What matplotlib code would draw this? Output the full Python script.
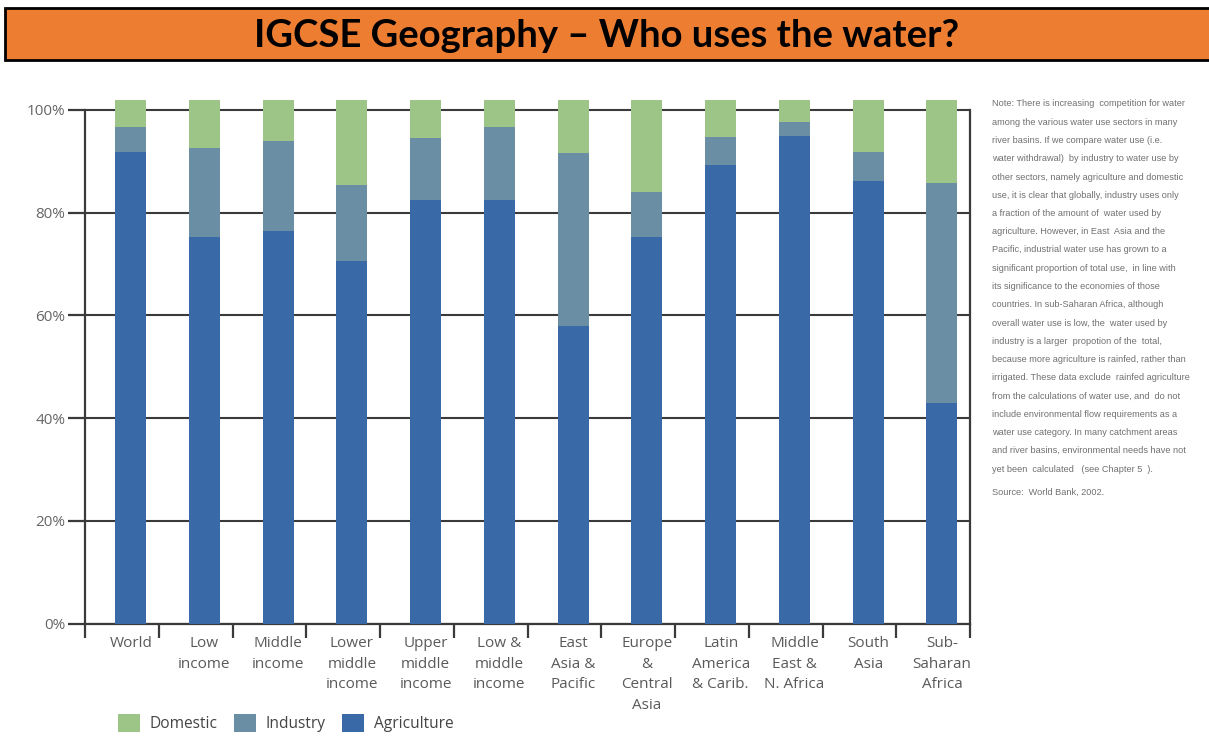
import matplotlib.pyplot as plt
from matplotlib.patches import Rectangle, Patch
from matplotlib.ticker import FixedLocator

# Data (% of water withdrawal)
regions = ['World', 'Low\nincome', 'Middle\nincome', 'Lower\nmiddle\nincome',
           'Upper\nmiddle\nincome', 'Low &\nmiddle\nincome', 'East\nAsia &\nPacific',
           'Europe\n&\nCentral\nAsia', 'Latin\nAmerica\n& Carib.', 'Middle\nEast &\nN. Africa',
           'South\nAsia', 'Sub-\nSaharan\nAfrica']
agriculture = [91.9, 75.2, 76.5, 70.5, 82.5, 82.5, 57.9, 75.2, 89.3, 95.0, 86.2, 42.9]
industry = [4.8, 17.3, 17.5, 14.8, 12.0, 14.1, 33.7, 8.9, 5.4, 2.7, 5.7, 42.9]
domestic = [5.2, 9.4, 7.9, 16.6, 7.4, 5.3, 10.3, 17.8, 7.2, 4.2, 10.0, 16.1]
y_ticks = [0, 20, 40, 60, 80, 100]
y_labels = ['0%', '20%', '40%', '60%', '80%', '100%']

note_lines = [
    "Note: There is increasing  competition for water",
    "among the various water use sectors in many",
    "river basins. If we compare water use (i.e.",
    "water withdrawal)  by industry to water use by",
    "other sectors, namely agriculture and domestic",
    "use, it is clear that globally, industry uses only",
    "a fraction of the amount of  water used by",
    "agriculture. However, in East  Asia and the",
    "Pacific, industrial water use has grown to a",
    "significant proportion of total use,  in line with",
    "its significance to the economies of those",
    "countries. In sub-Saharan Africa, although",
    "overall water use is low, the  water used by",
    "industry is a larger  propotion of the  total,",
    "because more agriculture is rainfed, rather than",
    "irrigated. These data exclude  rainfed agriculture",
    "from the calculations of water use, and  do not",
    "include environmental flow requirements as a",
    "water use category. In many catchment areas",
    "and river basins, environmental needs have not",
    "yet been  calculated   (see Chapter 5  ).",
]
source = 'Source:  World Bank, 2002.'

c_dom = '#9cc587'
c_ind = '#6a8ea3'
c_agr = '#3a69a8'
dark = '#3a3a3a'

fig = plt.figure(figsize=(12.09, 7.47), dpi=100)

# title banner
fig.patches.append(Rectangle((5 / 1209, 1 - 60 / 747), 1.01, 52 / 747,
                             transform=fig.transFigure, facecolor='#ed7d31',
                             edgecolor='black', linewidth=2))
fig.text(607 / 1209, 1 - 36 / 747, 'IGCSE Geography \u2013 Who uses the water?',
         ha='center', va='center', fontsize=27.5, fontweight='bold', family='Lato')

ax = fig.add_axes([85 / 1209, 0.1653, (970 - 85) / 1209, 0.7081])
x = list(range(len(regions)))
w = 0.42
bottom2 = [a + b for a, b in zip(agriculture, industry)]
ax.bar(x, agriculture, w, color=c_agr, zorder=3)
ax.bar(x, industry, w, bottom=agriculture, color=c_ind, zorder=3)
ax.bar(x, domestic, w, bottom=bottom2, color=c_dom, zorder=3)

ax.set_xlim(-0.62, 11.38)
ax.set_ylim(0, 103)
ax.spines['top'].set_visible(False)
for s in ['left', 'right', 'bottom']:
    ax.spines[s].set_color(dark)
    ax.spines[s].set_linewidth(1.6)
ax.spines['left'].set_bounds(0, 100)
ax.spines['right'].set_bounds(0, 100)

ax.set_yticks(y_ticks)
ax.set_yticklabels(y_labels, family='Open Sans', fontsize=11, color='#666666')
ax.tick_params(axis='y', length=12, width=1.6, color=dark, pad=2)
ax.yaxis.grid(True, color=dark, linewidth=1.5, zorder=1)
ax.set_axisbelow(True)

ax.set_xticks(x)
ax.set_xticklabels(regions, family='Open Sans', fontsize=11, color='#5a5a5a',
                   linespacing=1.52)
ax.tick_params(axis='x', which='major', length=0, pad=9)
ax.xaxis.set_minor_locator(FixedLocator([-0.62 + k for k in range(13)]))
ax.tick_params(axis='x', which='minor', length=10, width=1.6, color=dark)

# side note, one line at a time
for i, line in enumerate(note_lines):
    fig.text(992 / 1209, 1 - (104 + i * 18.25) / 747, line, ha='left', va='center',
             fontsize=6.6, color='#707070', family='Liberation Sans')
fig.text(992 / 1209, 1 - 492 / 747, source, ha='left', va='center',
         fontsize=6.6, color='#707070', family='Liberation Sans')

handles = [Patch(facecolor=c_dom, label='Domestic'),
           Patch(facecolor=c_ind, label='Industry'),
           Patch(facecolor=c_agr, label='Agriculture')]
fig.legend(handles=handles, loc='center left', bbox_to_anchor=(104 / 1209, 1 - 723 / 747),
           ncol=3, frameon=False, prop={'family': 'Open Sans', 'size': 11.2},
           handlelength=1.4, handleheight=1.4, handletextpad=0.6, columnspacing=1.1,
           labelcolor='#444444')

fig.savefig('out.png', dpi=100)
